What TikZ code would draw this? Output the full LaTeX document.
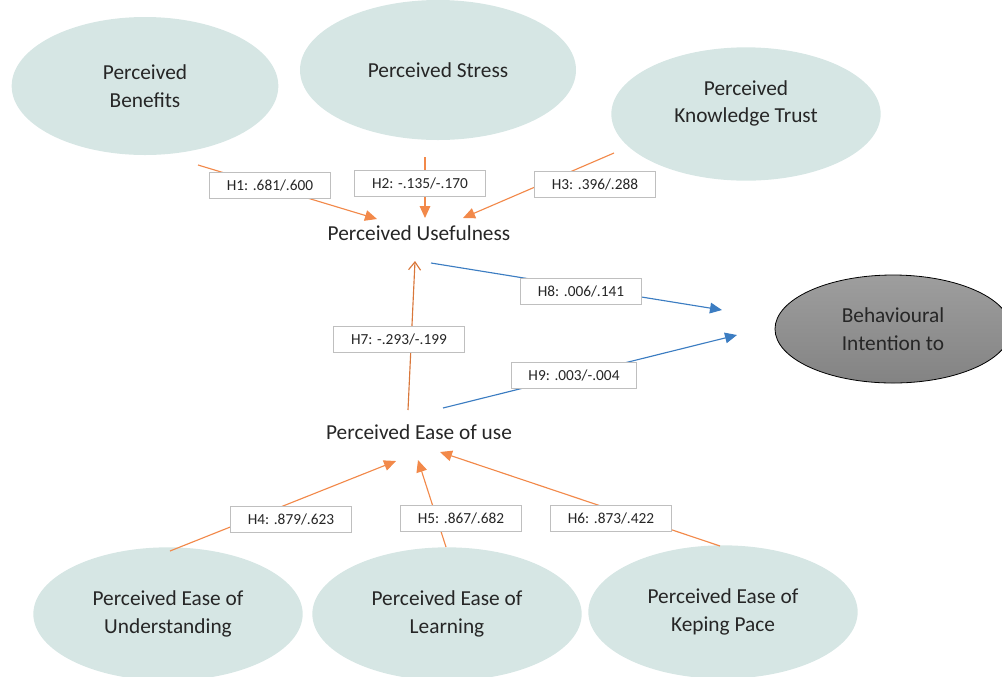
\documentclass[tikz,border=0pt]{standalone}
\usepackage{fontspec}
\setmainfont{Carlito}
\usetikzlibrary{shapes.geometric,arrows.meta}
\definecolor{bubblefill}{HTML}{D6E6E4}
\definecolor{pathorange}{HTML}{F2894A}
\definecolor{pathbrown}{HTML}{D9773A}
\definecolor{pathblue}{HTML}{3C7DC2}
\definecolor{boxline}{HTML}{BFBFBF}
\definecolor{inktext}{HTML}{262626}
\definecolor{outtop}{HTML}{9E9E9E}
\definecolor{outbottom}{HTML}{838383}

\begin{document}
\begin{tikzpicture}[x=0.75pt,y=-0.75pt,
    bubble/.style={ellipse, fill=bubblefill, text=inktext, align=center,
        font=\fontsize{16}{20.5}\selectfont, inner sep=0pt,
        minimum width=202pt, minimum height=100pt},
    outcome/.style={ellipse, draw=black, line width=0.6pt, top color=outtop,
        bottom color=outbottom, text=inktext, align=center,
        font=\fontsize{16}{20.5}\selectfont, inner sep=0pt,
        minimum width=177pt, minimum height=81pt},
    construct/.style={text=inktext, font=\fontsize{16}{20.5}\selectfont},
    hyp/.style={draw=boxline, line width=0.7pt, fill=white, text=inktext,
        font=\fontsize{11.5}{13}\selectfont, inner xsep=13pt, inner ysep=0pt,
        minimum height=19.5pt},
    orangepath/.style={draw=pathorange, line width=0.85pt,
        -{Triangle[length=9pt,width=8pt]}},
    brownpath/.style={draw=pathbrown, line width=0.85pt,
        -{Straight Barb[length=6pt,width=9pt]}},
    bluepath/.style={draw=pathblue, line width=0.85pt,
        -{Triangle[length=9pt,width=8pt]}}
]
    \clip (0,0) rectangle (1002,676);
    \useasboundingbox (0,0) rectangle (1002,676);

    % Antecedents of usefulness
    \node[bubble, minimum width=200pt, minimum height=103.5pt] (benefits) at (145,86) {Perceived\\Benefits};
    \node[bubble, minimum width=207pt, minimum height=105pt] (stress) at (438,70) {Perceived Stress};
    \node[bubble, label={[construct, align=center, yshift=8pt]center:Perceived\\Knowledge Trust}] (trust) at (746,114) {};

    % Antecedents of ease of use
    \node[bubble] (understand) at (168,614) {Perceived Ease of\\Understanding};
    \node[bubble] (learning) at (447,614) {Perceived Ease of\\Learning};
    \node[bubble] (pace) at (723,612) {Perceived Ease of\\Keping Pace};

    % Outcome
    \node[outcome] (intention) at (893,329) {Behavioural\\Intention to};

    % Mediators
    \node[construct] (useful) at (419,233) {Perceived Usefulness};
    \node[construct] (easeuse) at (419,432) {Perceived Ease of use};

    % Path end points
    \coordinate (ben-out) at (198,165);
    \coordinate (str-out) at (425,157);
    \coordinate (tru-out) at (614,153);
    \coordinate (und-out) at (170,551);
    \coordinate (lea-out) at (446,547);
    \coordinate (pac-out) at (720,546);
    \coordinate (pu-in1) at (377,219);
    \coordinate (pu-in2) at (425,218);
    \coordinate (pu-in3) at (463,218);
    \coordinate (pu-in4) at (415,261);
    \coordinate (pu-out) at (431,263);
    \coordinate (peu-in1) at (396,461);
    \coordinate (peu-in2) at (418,460);
    \coordinate (peu-in3) at (440,452);
    \coordinate (peu-up) at (408,410);
    \coordinate (peu-out) at (443,408);
    \coordinate (bi-in1) at (722,310);
    \coordinate (bi-in2) at (737,335);

    % Paths
    \draw[orangepath] (ben-out) -- (pu-in1);
    \draw[orangepath] (str-out) -- (pu-in2);
    \draw[orangepath] (tru-out) -- (pu-in3);
    \draw[orangepath] (und-out) -- (peu-in1);
    \draw[orangepath] (lea-out) -- (peu-in2);
    \draw[orangepath] (pac-out) -- (peu-in3);
    \draw[brownpath] (peu-up) -- (pu-in4);
    \draw[bluepath] (pu-out) -- (bi-in1);
    \draw[bluepath] (peu-out) -- (bi-in2);

    % Hypothesis labels
    \node[hyp] (h1) at (270,185) {H1: .681/.600};
    \node[hyp] (h2) at (420,183) {H2: -.135/-.170};
    \node[hyp] (h3) at (595,184) {H3: .396/.288};
    \node[hyp] (h4) at (291,519) {H4: .879/.623};
    \node[hyp] (h5) at (461,518) {H5: .867/.682};
    \node[hyp] (h6) at (611,518) {H6: .873/.422};
    \node[hyp] (h7) at (399,339) {H7: -.293/-.199};
    \node[hyp] (h8) at (581,291) {H8: .006/.141};
    \node[hyp] (h9) at (574,375) {H9: .003/-.004};
\end{tikzpicture}
\end{document}
